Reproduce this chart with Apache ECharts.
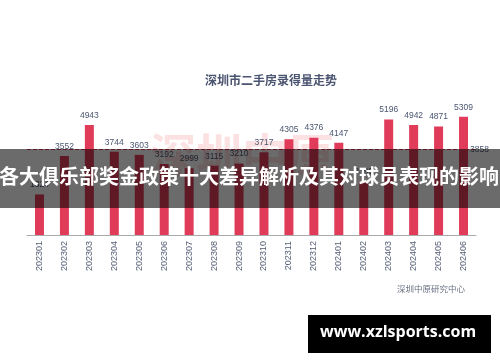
<!DOCTYPE html>
<html><head><meta charset="utf-8">
<script src="https://cdn.jsdelivr.net/npm/echarts@6/dist/echarts.min.js"></script>
<style>html,body{margin:0;padding:0;background:#fff}#c{width:500px;height:362px}</style>
</head><body><div id="c"></div>
<script>
const categories = ['202301','202302','202303','202304','202305','202306','202307','202308','202309','202310','202311','202312','202401','202402','202403','202404','202405','202406'];
const volumes = [1824,3552,4943,3744,3603,3192,2999,3115,3210,3717,4305,4376,4147,2399,5196,4942,4871,5309];
const chartTitle = '深圳市二手房录得量走势';
const sourceText = '深圳中原研究中心';
const bannerText = '各大俱乐部奖金政策十大差异解析及其对球员表现的影响';
const siteText = 'www.xzlsports.com';
const watermarkText = '深圳中原';

const chart = echarts.init(document.getElementById('c'));
const cjk = '"Noto Sans CJK SC", sans-serif';
chart.setOption({
  animation: false,
  backgroundColor: '#fff',
  title: {
    text: chartTitle, left: 266, top: 69, textAlign: 'center',
    textStyle: { fontSize: 12, fontWeight: 'bold', color: '#4b5470', fontFamily: cjk }
  },
  grid: { left: 27, right: 24, top: 101.5, height: 133.5 },
  xAxis: {
    type: 'category', data: categories,
    axisLine: { lineStyle: { color: '#aaaaaa' } },
    axisTick: { show: false },
    axisLabel: { rotate: 90, fontSize: 9, color: '#555d74', margin: 6, fontFamily: 'Liberation Sans' }
  },
  yAxis: { type: 'value', min: 0, max: 6000, show: false, splitLine: { show: false } },
  graphic: [
    { type: 'text', z: 0, left: 150, top: 132,
      style: { text: watermarkText, font: 'bold 46px "Noto Sans CJK SC"', fill: 'rgba(235,70,80,0.16)' } },
    { type: 'text', right: 35, top: 285,
      style: { text: sourceText, font: '8.5px "Noto Sans CJK SC"', fill: '#6a7082' } },
    { type: 'rect', z: 100, shape: { x: 0, y: 149, width: 500, height: 59 },
      style: { fill: 'rgba(0,0,0,0.58)' } },
    { type: 'text', z: 101, left: -1, top: 166,
      style: { text: bannerText, font: 'bold 20px "Noto Sans CJK SC"', fill: '#ffffff' } },
    { type: 'rect', z: 100, shape: { x: 308, y: 315, width: 183, height: 38 },
      style: { fill: '#000000' } },
    { type: 'text', z: 101, left: 320, top: 324,
      style: { text: siteText, font: 'bold 16px "Open Sans"', fill: '#ffffff' } }
  ],
  series: [{
    type: 'bar', data: volumes, barWidth: 9, z: 2,
    itemStyle: { color: '#e03c5a' },
    label: { show: true, position: 'top', fontSize: 8.5, color: '#4b5670', distance: 5, fontFamily: 'Liberation Sans' },
    markLine: {
      symbol: 'none', silent: true,
      lineStyle: { color: '#e03c5a', type: 'dashed', width: 1 },
      label: { position: 'end', distance: [-6, 2], fontSize: 8.5, color: '#4b5670', fontFamily: 'Liberation Sans', formatter: p => Math.round(p.value) },
      data: [{ type: 'average' }]
    }
  }]
});
</script></body></html>
